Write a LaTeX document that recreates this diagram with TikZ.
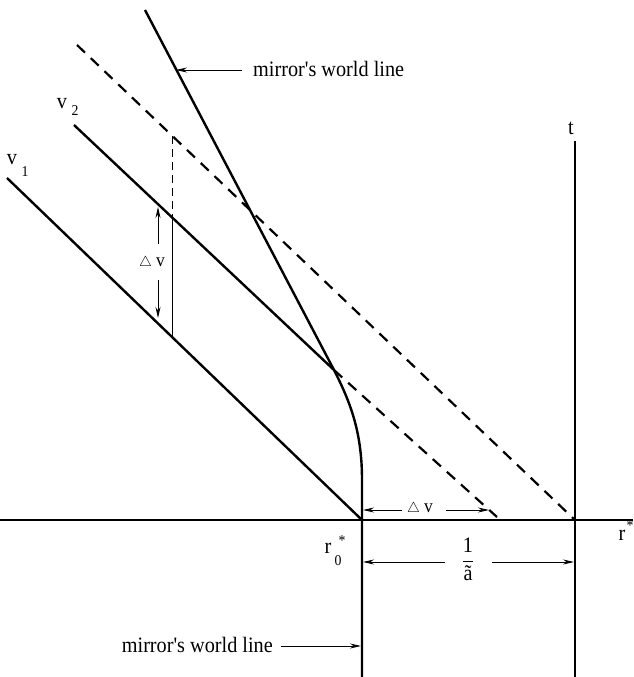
\documentclass[tikz,border=0pt]{standalone}
\usepackage{fontspec}
\setmainfont{Liberation Serif}
\newfontfamily\lblfont[FakeStretch=0.92]{Liberation Serif}
\usetikzlibrary{arrows.meta}
\begin{document}
\begin{tikzpicture}[x=1pt,y=-1pt,
  thickline/.style={line width=2.4pt},
  dashline/.style={line width=2.2pt, dash pattern=on 11pt off 8pt},
  thinline/.style={line width=0.9pt},
  arr/.style={line width=0.9pt,-{Stealth[length=11pt,width=5pt]}},
  lbl/.style={font=\lblfont\fontsize{22}{24}\selectfont, inner sep=0pt},
  sublbl/.style={font=\lblfont\fontsize{15}{16}\selectfont, inner sep=0pt},
  dlbl/.style={font=\lblfont\fontsize{19}{20}\selectfont, inner sep=0pt}]
\useasboundingbox (0,0) rectangle (633,677);
\newcommand{\dtri}{{\fontsize{14}{14}\selectfont$\triangle$}\hspace{4pt}}
% coordinates
\coordinate (axL) at (0,520);
\coordinate (axR) at (633,520);
\coordinate (O) at (362,520);
\coordinate (Obot) at (362,677);
\coordinate (T) at (575,520);
\coordinate (Ttop) at (575,141);
\coordinate (Tbot) at (575,677);
\coordinate (v1s) at (7,178);
\coordinate (v2s) at (74,125);
\coordinate (v2m) at (334,370);
\coordinate (v2e) at (497,517);
\coordinate (ds) at (77,45);
\coordinate (ms) at (145,10);
\coordinate (mv) at (362,480);
\coordinate (vdTop) at (172,136);
\coordinate (vdMid) at (172,216);
\coordinate (vdBot) at (172,337);
% axes
\draw[line width=2pt] (axL) -- (axR);
\draw[thickline] (Ttop) -- (Tbot);
% world lines
\draw[thickline] (v1s) -- (O);
\draw[thickline] (v2s) -- (v2m);
\draw[dashline] (v2m) -- (v2e);
\draw[dashline] (ds) -- (T);
\draw[thickline] (ms) -- (v2m) .. controls (352,405) and (362,435) .. (mv) -- (Obot);
% vertical helper
\draw[thinline, dash pattern=on 8pt off 5pt] (vdTop) -- (vdMid);
\draw[thinline] (vdMid) -- (vdBot);
% labels
\node[lbl] (ttl) at (571,128) {t};
\node[lbl] (v2l) at (62,104) {v};
\node[sublbl] (v2n) at (75,111) {2};
\node[lbl] (v1l) at (12,160) {v};
\node[sublbl] (v1n) at (25,172) {1};
\node[lbl] (rs) at (622,535) {r};
\node[sublbl] (rsst) at (630,526) {*};
\node[lbl] (r0) at (328,548) {r};
\node[sublbl] (r0n) at (338,561) {0};
\node[sublbl] (r0st) at (342,541) {*};
% top mirror label
\node[lbl, anchor=west] (mtop) at (253,69) {mirror's world line};
\coordinate (mtopA) at (242,70);
\coordinate (mtopB) at (176,70);
\draw[arr] (mtopA) -- (mtopB);
% bottom mirror label
\node[lbl, anchor=east] (mbot) at (273,645) {mirror's world line};
\coordinate (mbotA) at (281,646);
\coordinate (mbotB) at (361,646);
\draw[arr] (mbotA) -- (mbotB);
% vertical delta v
\node[dlbl] (dvv) at (152,263) {\dtri v};
\coordinate (dvvA) at (158,244);
\coordinate (dvvB) at (158,207);
\coordinate (dvvC) at (158,280);
\coordinate (dvvD) at (158,318);
\draw[arr] (dvvA) -- (dvvB);
\draw[arr] (dvvC) -- (dvvD);
% horizontal delta v
\node[dlbl] (dvh) at (420,509) {\dtri v};
\coordinate (dvhA) at (402,510);
\coordinate (dvhB) at (363,510);
\coordinate (dvhC) at (446,510);
\coordinate (dvhD) at (489,510);
\draw[arr] (dvhA) -- (dvhB);
\draw[arr] (dvhC) -- (dvhD);
% 1/a
\node[lbl] (frac) at (468,559) {$\displaystyle\frac{\mbox{1}}{\mbox{ã}}$};
\coordinate (faA) at (445,562);
\coordinate (faB) at (363,562);
\coordinate (faC) at (492,562);
\coordinate (faD) at (574,562);
\draw[arr] (faA) -- (faB);
\draw[arr] (faC) -- (faD);
\end{tikzpicture}
\end{document}
